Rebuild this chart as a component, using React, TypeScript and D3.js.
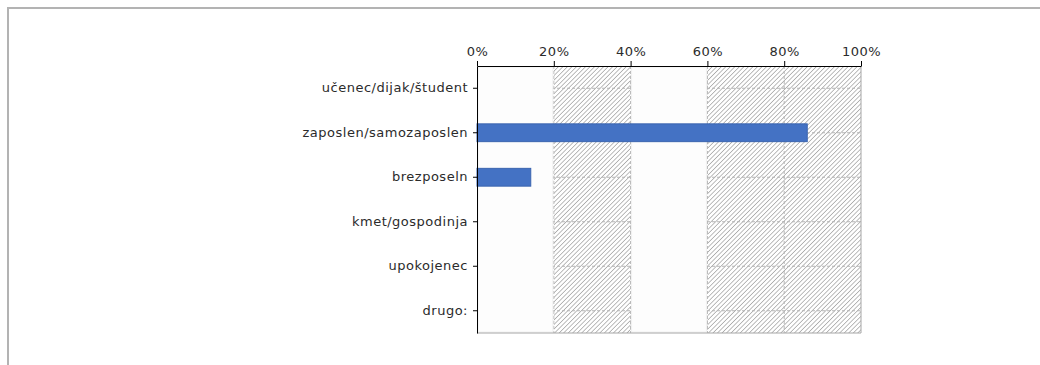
import React, { useRef, useEffect } from 'react';
import * as d3 from 'd3';

const categories = [
  'učenec/dijak/študent',
  'zaposlen/samozaposlen',
  'brezposeln',
  'kmet/gospodinja',
  'upokojenec',
  'drugo:',
];
const values = [0, 0.86, 0.14, 0, 0, 0];
const xTicks = [0, 0.2, 0.4, 0.6, 0.8, 1];
// hatched and plain bands behind the bars
const hatchBands: [number, number][] = [
  [0.2, 0.4],
  [0.6, 1],
];
const plainBands: [number, number][] = [
  [0, 0.2],
  [0.4, 0.6],
];

const App: React.FC = () => {
  const ref = useRef<SVGSVGElement | null>(null);

  useEffect(() => {
    if (!ref.current) return;
    const svg = d3.select(ref.current);
    svg.selectAll('*').remove();

    const width = 1040;
    const height = 365;
    const margin = { top: 66, right: 179, bottom: 32, left: 477 };
    const font = 'DejaVu Sans, Verdana, sans-serif';

    const defs = svg.append('defs');
    const pat = defs
      .append('pattern')
      .attr('id', 'hatch')
      .attr('patternUnits', 'userSpaceOnUse')
      .attr('width', 3.2)
      .attr('height', 3.2)
      .attr('patternTransform', 'rotate(45)');
    pat.append('rect').attr('width', 3.2).attr('height', 3.2).attr('fill', '#ffffff');
    pat
      .append('line')
      .attr('x1', 0)
      .attr('y1', 0)
      .attr('x2', 0)
      .attr('y2', 3.2)
      .attr('stroke', '#a0a0a0')
      .attr('stroke-width', 1.4);

    // outer frame (only top and left visible)
    svg
      .append('path')
      .attr('d', `M8,${height} L8,8 L${width},8`)
      .attr('fill', 'none')
      .attr('stroke', '#b3b3b3')
      .attr('stroke-width', 2);

    const x = d3
      .scaleLinear()
      .domain([0, 1])
      .range([margin.left, width - margin.right]);
    const y = d3
      .scaleBand()
      .domain(categories)
      .range([margin.top, height - margin.bottom])
      .paddingInner(0.6)
      .paddingOuter(0.3);
    const yTop = margin.top;
    const yBot = height - margin.bottom;

    // hatched bands
    svg
      .append('g')
      .selectAll('rect')
      .data(hatchBands)
      .join('rect')
      .attr('x', (d) => x(d[0]))
      .attr('y', yTop)
      .attr('width', (d) => x(d[1]) - x(d[0]))
      .attr('height', yBot - yTop)
      .attr('fill', 'url(#hatch)');

    // gridlines
    const grid = svg.append('g').attr('stroke', '#b5b5b5').attr('stroke-dasharray', '3,2');
    grid
      .selectAll('line.h')
      .data(categories)
      .join('line')
      .attr('class', 'h')
      .attr('x1', x(0))
      .attr('x2', x(1))
      .attr('y1', (d) => y(d)! + y.bandwidth() / 2)
      .attr('y2', (d) => y(d)! + y.bandwidth() / 2);
    grid
      .selectAll('line.v')
      .data(xTicks.filter((t) => t > 0 && t < 1))
      .join('line')
      .attr('class', 'v')
      .attr('x1', (d) => x(d))
      .attr('x2', (d) => x(d))
      .attr('y1', yTop)
      .attr('y2', yBot);

    // plain white bands cover the gridlines
    svg
      .append('g')
      .selectAll('rect')
      .data(plainBands)
      .join('rect')
      .attr('x', (d) => x(d[0]) + 1)
      .attr('y', yTop + 1)
      .attr('width', (d) => x(d[1]) - x(d[0]) - 2)
      .attr('height', yBot - yTop - 2)
      .attr('fill', '#fdfdfd')
      .attr('stroke', '#f0f0f0');

    // plot border right & bottom
    svg
      .append('path')
      .attr('d', `M${x(0)},${yBot} L${x(1)},${yBot} L${x(1)},${yTop}`)
      .attr('fill', 'none')
      .attr('stroke', '#a6a6a6')
      .attr('stroke-width', 1);

    // bars
    svg
      .append('g')
      .selectAll('rect')
      .data(categories.map((c, i) => ({ c, v: values[i] })))
      .join('rect')
      .attr('x', x(0))
      .attr('y', (d) => y(d.c)!)
      .attr('width', (d) => x(d.v) - x(0))
      .attr('height', y.bandwidth())
      .attr('fill', '#4472c4')
      .attr('stroke', '#3a64b0')
      .attr('stroke-width', (d) => (d.v > 0 ? 1 : 0));

    // axes
    const xAxis = svg
      .append('g')
      .attr('transform', `translate(0,${yTop})`)
      .call(
        d3
          .axisTop(x)
          .tickValues(xTicks)
          .tickFormat((d) => `${Math.round((d as number) * 100)}%`)
          .tickSize(5)
          .tickSizeOuter(0)
      );
    xAxis.select('.domain').attr('stroke', '#000');
    xAxis
      .selectAll('text')
      .attr('font-family', font)
      .attr('font-size', 13)
      .attr('letter-spacing', 0.5)
      .attr('fill', '#2b2b2b')
      .attr('dy', '-0.15em');

    const yAxis = svg
      .append('g')
      .attr('transform', `translate(${x(0)},0)`)
      .call(d3.axisLeft(y).tickSize(4).tickSizeOuter(0).tickPadding(5));
    yAxis.select('.domain').attr('stroke', '#000');
    yAxis
      .selectAll('text')
      .attr('font-family', font)
      .attr('font-size', 13)
      .attr('letter-spacing', 0.5)
      .attr('fill', '#2b2b2b');
  }, []);

  return (
    <svg
      ref={ref}
      width={1040}
      height={365}
      style={{ position: 'absolute', left: 0, top: 0, display: 'block' }}
    />
  );
};

export default App;
